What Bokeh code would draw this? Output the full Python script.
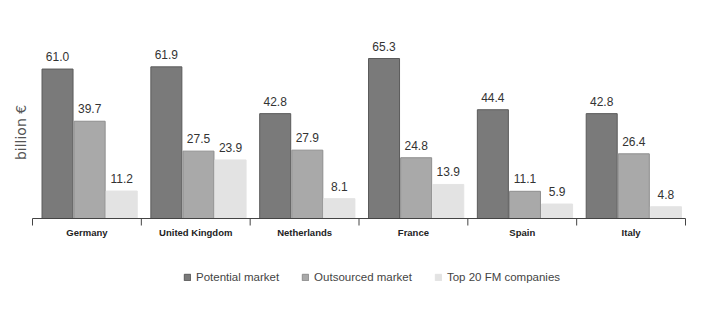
import numpy as np
from bokeh.plotting import figure
from bokeh.models import ColumnDataSource, Range1d, Legend, LegendItem
from bokeh.core.properties import value
from bokeh.embed import file_html
from bokeh.resources import INLINE

countries = ["Germany", "United Kingdom", "Netherlands", "France", "Spain", "Italy"]
potential = [61.0, 61.9, 42.8, 65.3, 44.4, 42.8]
outsourced = [39.7, 27.5, 27.9, 24.8, 11.1, 26.4]
top20 = [11.2, 23.9, 8.1, 13.9, 5.9, 4.8]
series_names = ["Potential market", "Outsourced market", "Top 20 FM companies"]
y_label = "billion €"

fills = ["#7a7a7a", "#a9a9a9", "#e3e3e3"]
lines = ["#5a5a5a", "#8e8e8e", "#e3e3e3"]
offsets = [0.23, 0.525, 0.82]
bar_w = 0.285

W, H = 725, 313
left_px, right_px = 32, 685          # baseline extent in pixels
base_px = 218                        # baseline pixel row (from top)
xs = (right_px - left_px) / len(countries)   # px per group
ys = 2.45                            # px per billion

x_start = -left_px / xs
x_end = (W - left_px) / xs
y_start = -(H - base_px) / ys
y_end = base_px / ys

p = figure(width=W, height=H, output_backend="svg", toolbar_location=None,
           x_range=Range1d(x_start, x_end), y_range=Range1d(y_start, y_end),
           min_border=0, x_axis_location=None, y_axis_location=None)
p.grid.visible = False
p.outline_line_color = None
p.background_fill_color = "white"

idx = np.arange(len(countries))
renderers = []
for vals, off, fc, lc, name in zip([potential, outsourced, top20], offsets, fills, lines, series_names):
    src = ColumnDataSource(dict(x=idx + off, top=vals, label=[f"{v:.1f}" for v in vals]))
    r = p.vbar(x="x", top="top", bottom=0, width=bar_w, source=src,
               fill_color=fc, line_color=lc, line_width=1)
    renderers.append((name, r))
    p.text(x="x", y="top", text="label", source=src, text_align="center",
           text_baseline="bottom", y_offset=-8, text_font=value("Liberation Sans"),
           text_font_size="12px", text_color="#333333")

# baseline and group dividers
bounds = list(range(len(countries) + 1))
p.segment(x0=[0], x1=[len(countries)], y0=[0], y1=[0], line_color="#444444", line_width=1)
p.segment(x0=bounds, x1=bounds, y0=[0] * len(bounds), y1=[-7 / ys] * len(bounds),
          line_color="#444444", line_width=1)

# country names
p.text(x=idx + 0.5, y=[0] * len(countries), text=countries, text_align="center",
       text_baseline="middle", y_offset=14, text_font=value("Liberation Sans"),
       text_font_style="bold", text_font_size="9.5px", text_color="#222222")

# y label
p.text(x=[x_start + 20 / xs], y=[(base_px - 132) / ys], text=[y_label], angle=np.pi / 2,
       text_align="center", text_baseline="middle", text_font=value("DejaVu Sans"),
       text_font_size="14px", text_color="#555555")

legend = Legend(items=[LegendItem(label=n, renderers=[r]) for n, r in renderers],
                orientation="horizontal", location=(183, 30),
                border_line_color=None, background_fill_alpha=0,
                glyph_width=8, glyph_height=8, label_standoff=5, spacing=22,
                label_text_font="Liberation Sans", label_text_font_size="11.5px",
                label_text_color="#444444", margin=0, padding=0)
p.add_layout(legend, "center")

open("out.html", "w").write(file_html(p, INLINE))
